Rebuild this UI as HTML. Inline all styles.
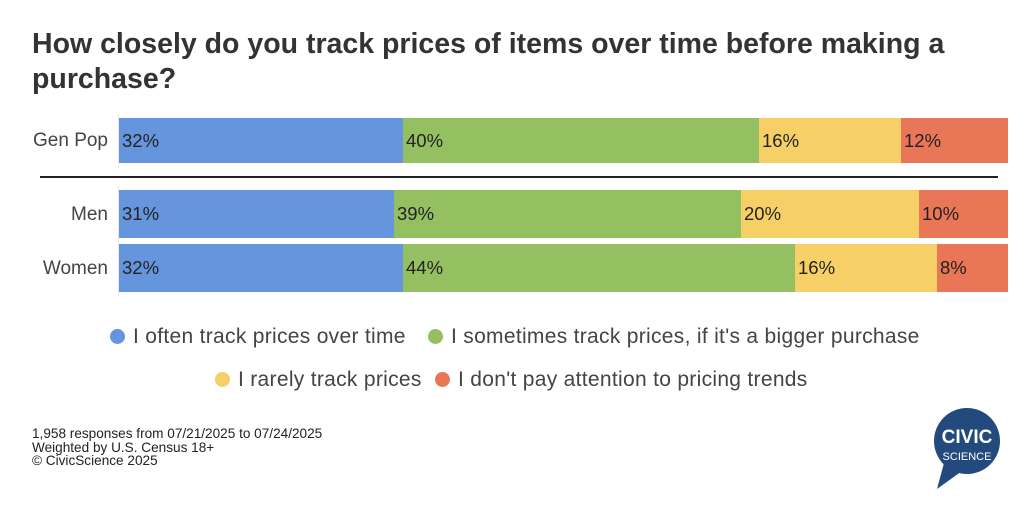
<!DOCTYPE html><html><head><meta charset="utf-8"><style>
body{margin:0;width:1024px;height:506px;background:#fff;font-family:"Liberation Sans",sans-serif;position:relative;overflow:hidden}
.t{position:absolute;left:32px;top:27px;font-size:28.5px;font-weight:bold;color:#333;line-height:35px;width:980px}
.lab{position:absolute;font-size:19px;color:#444;text-align:right;width:100px;left:8px}
.seg{position:absolute;font-size:18.5px;color:#222;line-height:46px;padding-left:3px;box-sizing:border-box}
.leg{position:absolute;font-size:21px;letter-spacing:.3px;color:#444;white-space:nowrap}
.d{display:inline-block;width:15px;height:15px;border-radius:50%;vertical-align:-1px;margin-right:8px}
.f{position:absolute;left:32px;top:427px;font-size:13.6px;color:#222;line-height:13.5px}
</style></head><body>
<div class="t">How closely do you track prices of items over time before making a purchase?</div>
<div style="position:absolute;left:118px;top:114px;width:1px;height:54px;background:#e8e8e8"></div>
<div style="position:absolute;left:118px;top:186px;width:1px;height:110px;background:#e8e8e8"></div>
<div style="position:absolute;left:40px;top:176px;width:958px;height:2px;background:#222"></div>
<div class="lab" style="top:130px">Gen Pop</div>
<div class="lab" style="top:204px">Men</div>
<div class="lab" style="top:258px">Women</div>
<div class="seg" style="left:119px;top:118px;width:284px;height:45px;background:#6595dd;line-height:45px">32%</div>
<div class="seg" style="left:403px;top:118px;width:356px;height:45px;background:#95c062;line-height:45px">40%</div>
<div class="seg" style="left:759px;top:118px;width:142px;height:45px;background:#f6d067;line-height:45px">16%</div>
<div class="seg" style="left:901px;top:118px;width:107px;height:45px;background:#ea7658;line-height:45px">12%</div>
<div class="seg" style="left:119px;top:190px;width:275px;height:48px;background:#6595dd;line-height:48px">31%</div>
<div class="seg" style="left:394px;top:190px;width:347px;height:48px;background:#95c062;line-height:48px">39%</div>
<div class="seg" style="left:741px;top:190px;width:178px;height:48px;background:#f6d067;line-height:48px">20%</div>
<div class="seg" style="left:919px;top:190px;width:89px;height:48px;background:#ea7658;line-height:48px">10%</div>
<div class="seg" style="left:119px;top:244px;width:284px;height:48px;background:#6595dd;line-height:48px">32%</div>
<div class="seg" style="left:403px;top:244px;width:392px;height:48px;background:#95c062;line-height:48px">44%</div>
<div class="seg" style="left:795px;top:244px;width:142px;height:48px;background:#f6d067;line-height:48px">16%</div>
<div class="seg" style="left:937px;top:244px;width:71px;height:48px;background:#ea7658;line-height:48px">8%</div>
<div class="leg" style="left:110px;top:325px"><span class="d" style="background:#6595dd"></span>I often track prices over time</div>
<div class="leg" style="left:428px;top:325px"><span class="d" style="background:#95c062"></span>I sometimes track prices, if it's a bigger purchase</div>
<div class="leg" style="left:215px;top:368px"><span class="d" style="background:#f6d067"></span>I rarely track prices</div>
<div class="leg" style="left:435px;top:368px"><span class="d" style="background:#ea7658"></span>I don't pay attention to pricing trends</div>
<div class="f">1,958 responses from 07/21/2025 to 07/24/2025<br>Weighted by U.S. Census 18+<br>© CivicScience 2025</div>
<svg style="position:absolute;left:930px;top:405px" width="75" height="85"><circle cx="37" cy="36" r="33" fill="#234a7c"/><path d="M14 58 L7 84 L32 66 Z" fill="#234a7c"/>
<text x="37" y="38" text-anchor="middle" font-family="Liberation Sans" font-weight="bold" font-size="19" fill="#fff">CIVIC</text>
<text x="37" y="55" text-anchor="middle" font-family="Liberation Sans" font-size="11" fill="#fff">SCIENCE</text></svg>
</body></html>
